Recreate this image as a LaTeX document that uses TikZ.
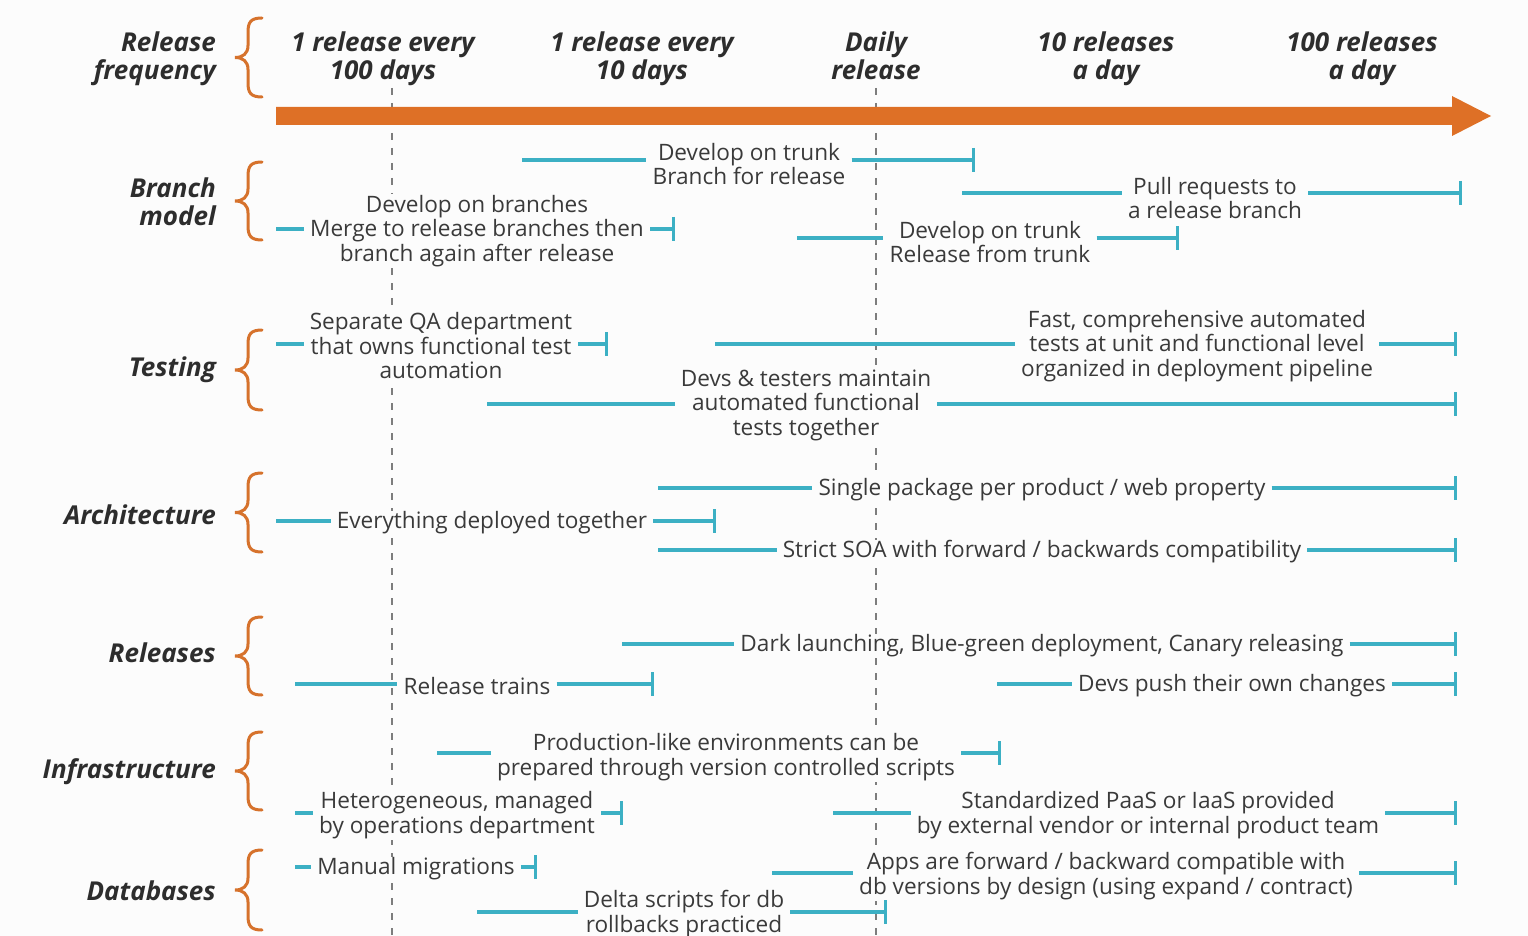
\documentclass[tikz,border=0pt]{standalone}
\usepackage{fontspec}
\setmainfont{Open Sans}
\usetikzlibrary{arrows.meta}

\definecolor{barteal}{RGB}{60,176,196}
\definecolor{flame}{RGB}{222,112,38}
\definecolor{bracecol}{RGB}{214,114,44}
\definecolor{ink}{RGB}{58,58,58}
\definecolor{headink}{RGB}{45,45,45}
\definecolor{paper}{RGB}{252,252,252}
\definecolor{guide}{RGB}{125,125,125}

\tikzset{
  item/.style={font=\fontsize{22.6}{24.5}\selectfont, text=ink, align=center,
               fill=paper, inner xsep=6pt, inner ysep=1pt},
  colhead/.style={font=\fontsize{26}{28}\selectfont\bfseries\itshape,
                  text=headink, align=center, inner sep=0pt, text depth=6.5pt},
  cathead/.style={font=\fontsize{26}{28}\selectfont\bfseries\itshape,
                  text=headink, align=right, anchor=east, inner sep=0pt},
  track/.style={draw=barteal, line width=3.5pt},
  trackend/.style={track, -{Bar[width=24pt,line width=3.5pt]}},
  bracestyle/.style={draw=bracecol, line width=3pt, line cap=round},
  guideline/.style={draw=guide, line width=1.2pt, dash pattern=on 7pt off 8pt},
}

% curly brace opening to the right, from top y (#1) to bottom y (#2)
\newcommand{\catbrace}[2]{%
  \pgfmathsetmacro{\bmid}{(#1+#2)/2}%
  \draw[bracestyle] (262,#1) .. controls (251,#1) and (248,#1+4) .. (248,#1+14)
    -- (248,\bmid-12) .. controls (248,\bmid-4) and (243,\bmid) .. (235,\bmid)
    .. controls (243,\bmid) and (248,\bmid+4) .. (248,\bmid+12)
    -- (248,#2-14) .. controls (248,#2-4) and (251,#2) .. (262,#2);%
}

% practice bar: name, start x, label x, label y, bar y, end x, text
\newcommand{\trackbar}[7]{%
  \node[item] (#1) at (#3,#4+2) {#7};
  \coordinate (#1-s) at (#2,#5);
  \coordinate (#1-e) at (#6,#5);
  \draw[track] (#1-s) -- (#1.west |- #1-s);
  \draw[trackend] (#1.east |- #1-s) -- (#1-e);%
}

\begin{document}
\begin{tikzpicture}[x=1pt,y=-1pt]
\useasboundingbox (0,0) rectangle (1528,936);
\fill[paper] (0,0) rectangle (1528,936);

% guide lines for the 100-day and daily marks
\draw[guideline] (392,88) -- (392,936);
\draw[guideline] (876,88) -- (876,936);

% frequency axis
\fill[flame] (276,107) -- (1452,107) -- (1452,96) -- (1491,116)
  -- (1452,136) -- (1452,125) -- (276,125) -- cycle;

% row headings
\node[cathead] (cRF) at (216,59) {Release\\frequency};
\node[cathead] (cBM) at (216,202) {Branch\\model};
\node[cathead] (cTS) at (216,370) {Testing};
\node[cathead] (cAR) at (216,515) {Architecture};
\node[cathead] (cRL) at (216,653) {Releases};
\node[cathead] (cIN) at (216,772) {Infrastructure};
\node[cathead] (cDB) at (216,891) {Databases};

\catbrace{18}{97}
\catbrace{162}{240}
\catbrace{330}{410}
\catbrace{473}{552}
\catbrace{617}{695}
\catbrace{732}{810}
\catbrace{850}{930}

% column headings
\node[colhead] (h1) at (383,59) {1 release every\\100 days};
\node[colhead] (h2) at (642,59) {1 release every\\10 days};
\node[colhead] (h3) at (876,59) {Daily\\release};
\node[colhead] (h4) at (1106,59) {10 releases\\a day};
\node[colhead] (h5) at (1362,59) {100 releases\\a day};

% branch model
\trackbar{bmA}{522}{749}{162}{160}{975}{Develop on trunk\\Branch for release}
\trackbar{bmB}{962}{1215}{196}{193}{1462}{Pull requests to\\a release branch}
\trackbar{bmC}{276}{477}{229}{229}{675}{Develop on branches\\Merge to release branches then\\branch again after release}
\trackbar{bmD}{797}{990}{240}{238}{1179}{Develop on trunk\\Release from trunk}

% testing
\trackbar{tsA}{276}{441}{344}{344}{608}{Separate QA department\\that owns functional test\\automation}
\trackbar{tsB}{715}{1197}{344}{344}{1457}{Fast, comprehensive automated\\tests at unit and functional level\\organized in deployment pipeline}
\trackbar{tsC}{487}{806}{403}{404}{1457}{Devs \& testers maintain\\automated functional\\tests together}

% architecture
\trackbar{arA}{658}{1042}{488}{488}{1457}{Single package per product / web property}
\trackbar{arB}{276}{492}{521}{521}{716}{Everything deployed together}
\trackbar{arC}{658}{1042}{550}{550}{1457}{Strict SOA with forward / backwards compatibility}

% releases
\trackbar{rlA}{622}{1042}{644}{644}{1457}{Dark launching, Blue-green deployment, Canary releasing}
\trackbar{rlB}{295}{477}{684}{684}{654}{Release trains}
\trackbar{rlC}{997}{1232}{684}{684}{1457}{Devs push their own changes}

% infrastructure
\trackbar{inA}{437}{726}{755}{753}{1001}{Production-like environments can be\\prepared through version controlled scripts}
\trackbar{inB}{295}{457}{813}{813}{623}{Heterogeneous, managed\\by operations department}
\trackbar{inC}{833}{1148}{813}{813}{1457}{Standardized PaaS or IaaS provided\\by external vendor or internal product team}

% databases
\trackbar{dbA}{295}{416}{867}{867}{537}{Manual migrations}
\trackbar{dbB}{772}{1106}{874}{873}{1457}{Apps are forward / backward compatible with\\db versions by design (using expand / contract)}
\trackbar{dbC}{477}{684}{912}{912}{887}{Delta scripts for db\\rollbacks practiced}
\end{tikzpicture}
\end{document}
